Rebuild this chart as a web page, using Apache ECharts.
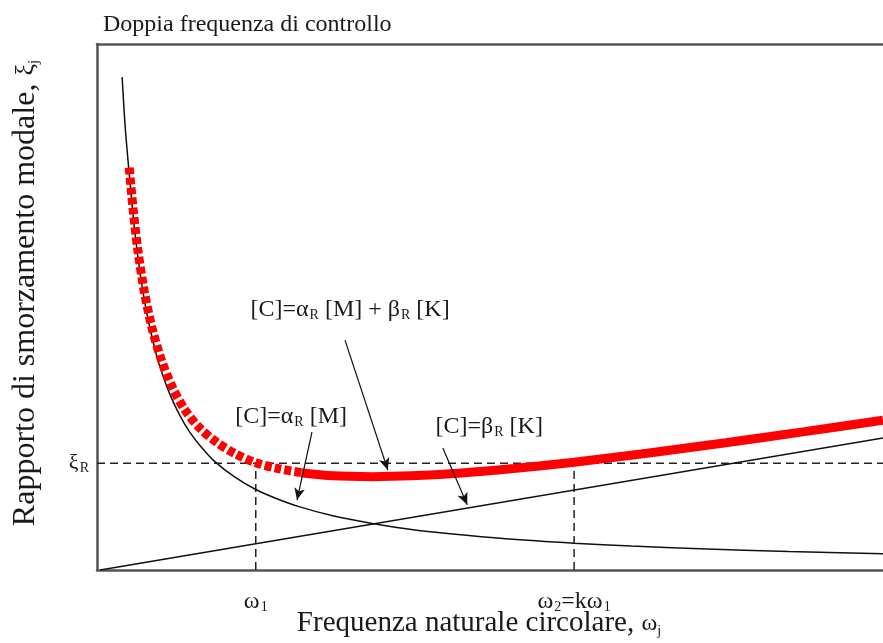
<!DOCTYPE html>
<html>
<head>
<meta charset="utf-8">
<script src="https://cdn.jsdelivr.net/npm/echarts@6/dist/echarts.min.js"></script>
<style>
  html, body { margin: 0; padding: 0; background: #fff; }
  #chart { width: 883px; height: 643px; }
</style>
</head>
<body>
<div id="chart"></div>
<script>
// curva alfa*M (iperbole)
var omegaAlpha = [3.2, 3.6, 4.2, 4.8, 5.5, 6.3, 7.4, 8.3, 9.3, 10.5, 11.8, 13.2, 15.0, 17.5, 20.2, 22.8, 25.8, 30.0, 35.0, 40.0, 44.9, 52.0, 60.7, 68.0, 76.7, 88.0, 100];
var xiAlpha    = [93.7, 84.0, 73.7, 64.5, 56.3, 49.1, 41.8, 37.3, 33.3, 29.5, 26.2, 23.5, 20.6, 17.7, 15.3, 13.6, 12.0, 10.3, 8.85, 7.7, 6.9, 5.95, 5.1, 4.55, 4.04, 3.5, 3.1];
// retta beta*K
var omegaBeta = [0.4, 100];
var xiBeta    = [0, 25.1];
// somma (rossa)
var omegaSum = [4.1, 4.6, 5.2, 6.0, 7.0, 8.2, 9.6, 11.2, 13.0, 15.2, 17.6, 20.2, 23.0, 26.0, 30.0, 35.0, 40.0, 46.0, 53.0, 60.7, 70, 80, 90, 100];
var xiSum    = [76.5, 68.5, 60.8, 53.1, 46.0, 39.9, 34.7, 30.4, 27.1, 24.3, 22.1, 20.4, 19.3, 18.5, 17.9, 17.75, 17.9, 18.4, 19.3, 20.5, 22.2, 24.2, 26.3, 28.5];
var dashEnd = 14; // fino a omega = 26 tratteggiata

var omega1 = 20.2, omega2 = 60.7, xiR = 20.3;

// etichette e frecce
var labelPos = [[32.2, 49.4], [24.7, 29.1], [49.9, 27.2]];
var labelText = [
  '[C]={g|α}{s|R} [M] + {g|β}{s|R} [K]',
  '[C]={g|α}{s|R} [M]',
  '[C]={g|β}{s|R} [K]'
];
var arrowFrom = [[31.55, 43.7], [27.35, 26.2], [44.0, 23.2]];
var arrowTo   = [[37.0, 19.0], [25.45, 13.3], [47.1, 12.4]];

var serif = '"Liberation Serif", "DejaVu Serif", serif';
var ink = '#1a1a1a';
var sub = { fontFamily: serif, fontSize: 14, verticalAlign: 'bottom', padding: [11, 0, 0, 1], color: ink };

function pairs(xs, ys) {
  return xs.map(function (x, i) { return [x, ys[i]]; });
}

var chart = echarts.init(document.getElementById('chart'));
var option = {
  animation: false,
  title: {
    text: 'Doppia frequenza di controllo',
    left: 98, top: 8,
    textStyle: { fontFamily: serif, fontSize: 24, fontWeight: 'normal', color: ink }
  },
  grid: { left: 97, right: 0, top: 44, bottom: 73, outerBoundsMode: 'none' },
  xAxis: [{
    type: 'value', min: 0, max: 100,
    name: 'Frequenza naturale circolare, {g|ω}{s|j}',
    nameLocation: 'middle', nameGap: 39, nameMoveOverlap: false,
    nameTextStyle: {
      fontFamily: serif, fontSize: 29, color: ink, padding: [0, 22, 0, 0],
      rich: { g: { fontFamily: serif, fontSize: 24, color: ink }, s: { fontFamily: serif, fontSize: 14, verticalAlign: 'bottom', padding: [12, 0, 0, 0], color: ink } }
    },
    axisLine: { lineStyle: { color: '#555', width: 2.5 } },
    axisTick: { show: false },
    splitLine: { show: false },
    axisLabel: {
      customValues: [omega1, omega2], margin: 19,
      formatter: function (v) {
        return v === omega1 ? '{g|ω}{s|1}' : '{g|ω}{s|2}{g|=kω}{s|1}';
      },
      rich: { g: { fontFamily: serif, fontSize: 24, color: ink }, s: sub }
    }
  }, {
    type: 'value', min: 0, max: 100, position: 'top',
    axisLine: { show: true, onZero: false, lineStyle: { color: '#555', width: 2.5 } },
    axisTick: { show: false }, axisLabel: { show: false }, splitLine: { show: false }
  }],
  yAxis: {
    type: 'value', min: 0, max: 100,
    name: 'Rapporto di smorzamento modale, {g|ξ}{s|j}',
    nameLocation: 'middle', nameGap: 55, nameMoveOverlap: false,
    nameTextStyle: {
      fontFamily: serif, fontSize: 32, color: ink, padding: [0, 0, 0, 28],
      rich: { g: { fontFamily: serif, fontSize: 26, color: ink }, s: { fontFamily: serif, fontSize: 15, verticalAlign: 'bottom', padding: [14, 0, 0, 0], color: ink } }
    },
    axisLine: { show: true, lineStyle: { color: '#555', width: 2.5 } },
    axisTick: { show: false },
    splitLine: { show: false },
    axisLabel: {
      customValues: [xiR], margin: 8,
      formatter: function () { return '{g|ξ}{s|R}'; },
      rich: { g: { fontFamily: serif, fontSize: 22, color: ink }, s: sub }
    }
  },
  series: [
    {
      type: 'line', data: [[0, xiR], [100, xiR]], symbol: 'none',
      lineStyle: { color: '#222', width: 1.5, type: [8, 5] }
    },
    {
      type: 'line', data: [[omega1, 0], [omega1, xiR]], symbol: 'none',
      lineStyle: { color: '#222', width: 1.5, type: [8, 5] }
    },
    {
      type: 'line', data: [[omega2, 0], [omega2, xiR]], symbol: 'none',
      lineStyle: { color: '#222', width: 1.5, type: [8, 5] }
    },
    {
      type: 'line', data: pairs(omegaBeta, xiBeta), symbol: 'none',
      lineStyle: { color: '#111', width: 1.5 }
    },
    {
      type: 'line', data: pairs(omegaAlpha, xiAlpha), symbol: 'none', smooth: 0.3,
      lineStyle: { color: '#111', width: 1.5 }
    },
    {
      type: 'line', data: pairs(omegaSum, xiSum).slice(0, dashEnd), symbol: 'none', smooth: 0.3,
      lineStyle: { color: '#ff0000', width: 9, type: [7, 3], cap: 'butt' }
    },
    {
      type: 'line', data: pairs(omegaSum, xiSum).slice(dashEnd - 1), symbol: 'none', smooth: 0.3,
      lineStyle: { color: '#ff0000', width: 9 }
    },
    {
      type: 'scatter', symbolSize: 0,
      itemStyle: { opacity: 1 },
      data: labelPos.map(function (p, i) {
        return { value: p, label: { formatter: labelText[i] } };
      }),
      label: {
        show: true, position: 'inside', opacity: 1,
        fontFamily: serif, fontSize: 24, color: ink, textBorderWidth: 0,
        rich: { g: { fontFamily: serif, fontSize: 24, color: ink }, s: sub }
      },
      markLine: {
        silent: true, symbol: ['none', 'arrow'], symbolSize: [8, 12],
        label: { show: false },
        lineStyle: { color: '#111', width: 1.2, type: 'solid' },
        data: arrowFrom.map(function (p, i) {
          return [{ coord: p }, { coord: arrowTo[i] }];
        })
      }
    }
  ]
};
chart.setOption(option);
</script>
</body>
</html>
